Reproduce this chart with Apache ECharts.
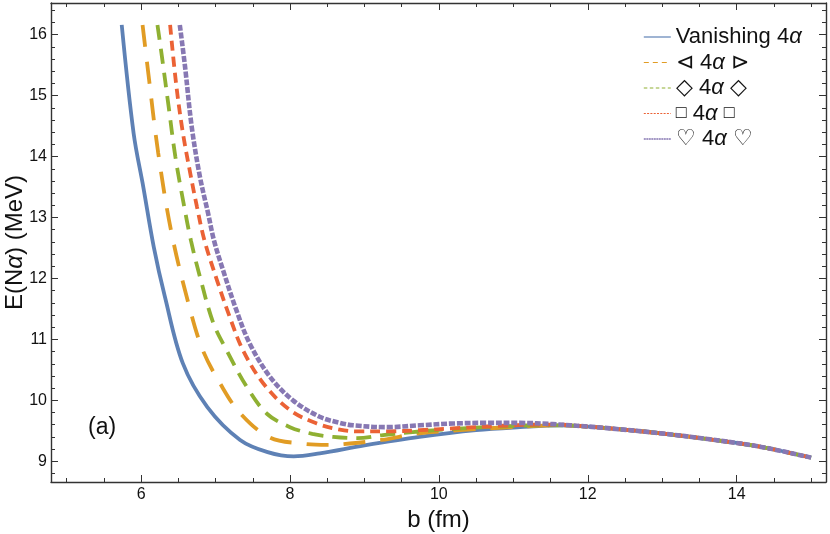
<!DOCTYPE html>
<html>
<head>
<meta charset="utf-8">
<script src="https://cdn.jsdelivr.net/npm/echarts@6/dist/echarts.min.js"></script>
<style>html,body{margin:0;padding:0;background:#fff}#c{width:830px;height:534px}</style>
</head>
<body>
<div id="c"></div>
<script>
// ---- data ----
const seriesNames = ['Vanishing 4α', '⊲ 4α ⊳', '◇ 4α ◇', '□ 4α □', '♡ 4α ♡'];
const xMajor = [6, 8, 10, 12, 14];
const xMinor = [5, 5.5, 6.5, 7, 7.5, 8.5, 9, 9.5, 10.5, 11, 11.5, 12.5, 13, 13.5, 14.5, 15];
const yMajor = [9, 10, 11, 12, 13, 14, 15, 16];
const yMinor = [8.8, 9.2, 9.4, 9.6, 9.8, 10.2, 10.4, 10.6, 10.8, 11.2, 11.4, 11.6, 11.8,
  12.2, 12.4, 12.6, 12.8, 13.2, 13.4, 13.6, 13.8, 14.2, 14.4, 14.6, 14.8, 15.2, 15.4, 15.6, 15.8, 16.2, 16.4];

const vanishingX = [5.74, 5.90, 6.03, 6.17, 6.32, 6.56, 6.89, 7.33, 7.70, 8.05, 8.40, 9.00, 9.74, 10.50, 11.09, 11.62];
const vanishingY = [16.16, 14.38, 13.50, 12.52, 11.70, 10.61, 9.89, 9.35, 9.15, 9.08, 9.13, 9.26, 9.40, 9.51, 9.56, 9.59];

const triX = [6.02, 6.10, 6.23, 6.41, 6.66, 6.83, 7.06, 7.33, 7.73, 8.17, 8.50, 8.71, 9.23, 9.74, 10.28, 10.80, 11.30, 11.62];
const triY = [16.16, 15.34, 14.06, 12.74, 11.48, 10.82, 10.28, 9.79, 9.39, 9.29, 9.27, 9.28, 9.35, 9.46, 9.51, 9.55, 9.58, 9.59];

const diaX = [6.22, 6.28, 6.37, 6.46, 6.57, 6.67, 6.79, 6.97, 7.15, 7.42, 7.69, 8.00, 8.30, 8.58, 8.90, 9.25, 9.65, 10.19, 10.80, 11.30, 11.62];
const diaY = [16.16, 15.64, 14.82, 14.00, 13.24, 12.62, 12.03, 11.27, 10.82, 10.22, 9.78, 9.56, 9.45, 9.40, 9.38, 9.43, 9.48, 9.53, 9.57, 9.59, 9.59];

const sqX = [6.39, 6.47, 6.56, 6.66, 6.75, 6.85, 7.02, 7.19, 7.37, 7.64, 8.00, 8.36, 8.67, 8.90, 9.30, 9.74, 10.19, 10.80, 11.30, 11.62];
const sqY = [16.16, 15.20, 14.40, 13.73, 13.18, 12.63, 11.97, 11.37, 10.82, 10.28, 9.84, 9.62, 9.52, 9.49, 9.49, 9.51, 9.54, 9.58, 9.60, 9.60];

const heartX = [6.52, 6.59, 6.68, 6.79, 6.90, 6.98, 7.10, 7.28, 7.46, 7.73, 8.04, 8.40, 8.67, 8.85, 9.30, 9.74, 10.19, 10.64, 11.09, 11.53];
const heartY = [16.16, 15.48, 14.49, 13.67, 13.07, 12.62, 12.14, 11.48, 10.93, 10.39, 10.00, 9.73, 9.63, 9.59, 9.56, 9.59, 9.62, 9.63, 9.63, 9.61];

// common tail where all curves coincide
const tailX = [12.00, 12.30, 12.97, 13.64, 14.31, 15.00];
const tailY = [9.57, 9.54, 9.46, 9.36, 9.24, 9.06];

const XMIN = 4.79, XMAX = 15.2, YMIN = 8.66, YMAX = 16.52;

// ---- build ----
function pairs(xs, ys) {
  const out = xs.map((x, i) => [x, ys[i]]);
  tailX.forEach((x, i) => out.push([x, tailY[i]]));
  return out;
}
const FONT = '"Liberation Sans", Arial, sans-serif';
const frameColor = '#333';
const colors = ['#5E81B5', '#E19C24', '#8FB032', '#EB6235', '#8778B3'];
const styles = [
  { width: 3.8, type: 'solid' },
  { width: 3.8, type: [22, 15] },
  { width: 3.8, type: [15, 9] },
  { width: 3.8, type: [10, 6] },
  { width: 4.6, type: [6, 1.8] }
];
const legendStyles = [
  { width: 1.2, type: 'solid' },
  { width: 1.2, type: [5, 4] },
  { width: 1.2, type: [3.5, 2.5] },
  { width: 1.2, type: [2, 1.3] },
  { width: 1.6, type: [2, 0.5] }
];
const dataSets = [pairs(vanishingX, vanishingY), pairs(triX, triY), pairs(diaX, diaY), pairs(sqX, sqY), pairs(heartX, heartY)];

function xAx(pos, ticks, len, withLabel, withLine, extra) {
  return Object.assign({
    type: 'value', min: XMIN, max: XMAX, position: pos, gridIndex: 0,
    axisLine: { show: withLine, onZero: false, lineStyle: { color: frameColor, width: 1.4 } },
    axisTick: { show: true, inside: true, length: len, customValues: ticks, lineStyle: { color: frameColor, width: 1 } },
    axisLabel: withLabel ? { show: true, customValues: ticks, margin: 5, fontSize: 16, color: '#111', fontFamily: FONT } : { show: false },
    splitLine: { show: false }, minorTick: { show: false }
  }, extra || {});
}
function yAx(pos, ticks, len, withLabel, withLine, extra) {
  return Object.assign({
    type: 'value', min: YMIN, max: YMAX, position: pos, gridIndex: 0,
    axisLine: { show: withLine, onZero: false, lineStyle: { color: frameColor, width: 1.4 } },
    axisTick: { show: true, inside: true, length: len, customValues: ticks, lineStyle: { color: frameColor, width: 1 } },
    axisLabel: withLabel ? { show: true, customValues: ticks, margin: 4, fontSize: 16, color: '#111', fontFamily: FONT } : { show: false },
    splitLine: { show: false }, minorTick: { show: false }
  }, extra || {});
}

const chart = echarts.init(document.getElementById('c'), null, { renderer: 'canvas' });
chart.setOption({
  animation: false,
  backgroundColor: '#fff',
  grid: { left: 51, right: 4, top: 3, bottom: 52, containLabel: false, outerBoundsMode: 'none' },
  xAxis: [
    xAx('bottom', xMajor, 7, true, true, {
      name: 'b (fm)', nameLocation: 'middle', nameGap: 26, nameMoveOverlap: false,
      nameTextStyle: { fontSize: 24, color: '#111', fontFamily: FONT }
    }),
    xAx('bottom', xMinor, 4, false, false),
    xAx('top', xMajor, 7, false, true),
    xAx('top', xMinor, 4, false, false)
  ],
  yAxis: [
    yAx('left', yMajor, 7, true, true, {
      name: 'E(N{i|α}) (MeV)', nameLocation: 'middle', nameGap: 24, nameMoveOverlap: false,
      nameTextStyle: { fontSize: 24, color: '#111', fontFamily: FONT,
        rich: { i: { fontSize: 24, fontStyle: 'italic', color: '#111', fontFamily: FONT } } }
    }),
    yAx('left', yMinor, 4, false, false),
    yAx('right', yMajor, 7, false, true),
    yAx('right', yMinor, 4, false, false)
  ],
  legend: {
    orient: 'vertical', left: 643, top: 26, padding: 0,
    itemWidth: 27, itemHeight: 12, itemGap: 3.5,
    itemStyle: { opacity: 0 },
    data: seriesNames.map((n, i) => ({ name: n, lineStyle: legendStyles[i], itemStyle: { opacity: 0 } })),
    formatter: name => name.replace(/α/g, '{i|α}').replace(/□/g, '{s|□}'),
    textStyle: {
      fontSize: 22, color: '#111', fontFamily: FONT, lineHeight: 22,
      rich: {
        i: { fontSize: 22, fontStyle: 'italic', color: '#111', fontFamily: FONT, lineHeight: 22 },
        s: { fontSize: 18, color: '#111', fontFamily: FONT, lineHeight: 22 }
      }
    }
  },
  graphic: [{
    type: 'text', left: 88, top: 416,
    style: { text: '(a)', fontSize: 23, fill: '#111', fontFamily: FONT }
  }],
  series: dataSets.map((d, i) => ({
    name: seriesNames[i], type: 'line', xAxisIndex: 0, yAxisIndex: 0,
    data: d, showSymbol: false, symbol: 'none',
    smooth: 0.35,
    color: colors[i],
    lineStyle: { color: colors[i], width: styles[i].width, type: styles[i].type },
    z: 2 + i
  }))
});
</script>
</body>
</html>
